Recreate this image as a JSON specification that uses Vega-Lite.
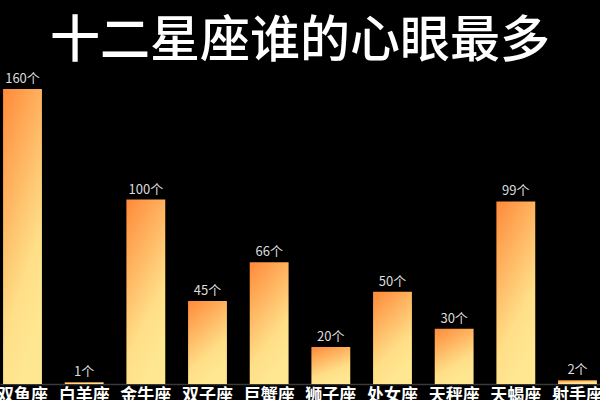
{
  "$schema": "https://vega.github.io/schema/vega-lite/v6.json",
  "background": "black",
  "autosize": {"type": "none"},
  "padding": {"top": 70, "left": 0, "right": 0, "bottom": 16},
  "width": 600,
  "height": 314,
  "title": {
    "text": "十二星座谁的心眼最多",
    "font": "Noto Sans CJK SC",
    "fontSize": 50,
    "fontWeight": 500,
    "color": "white",
    "anchor": "middle",
    "offset": 3
  },
  "data": {
    "values": [
      {"sign": "双鱼座", "value": 160, "label": "160个"},
      {"sign": "白羊座", "value": 1, "label": "1个"},
      {"sign": "金牛座", "value": 100, "label": "100个"},
      {"sign": "双子座", "value": 45, "label": "45个"},
      {"sign": "巨蟹座", "value": 66, "label": "66个"},
      {"sign": "狮子座", "value": 20, "label": "20个"},
      {"sign": "处女座", "value": 50, "label": "50个"},
      {"sign": "天秤座", "value": 30, "label": "30个"},
      {"sign": "天蝎座", "value": 99, "label": "99个"},
      {"sign": "射手座", "value": 2, "label": "2个"}
    ]
  },
  "encoding": {
    "x": {
      "field": "sign",
      "type": "nominal",
      "sort": null,
      "scale": {"paddingInner": 0.37, "paddingOuter": 0.05},
      "axis": {
        "title": null,
        "labelAngle": 0,
        "labelColor": "white",
        "labelFont": "Noto Sans CJK SC",
        "labelFontSize": 17,
        "labelFontWeight": "bold",
        "labelPadding": 3,
        "ticks": false,
        "domainColor": "#3a3a3a",
        "domainWidth": 1.5
      }
    },
    "y": {
      "field": "value",
      "type": "quantitative",
      "scale": {"domain": [0, 170.3], "nice": false},
      "axis": null
    }
  },
  "layer": [
    {
      "mark": {
        "type": "bar",
        "color": {
          "gradient": "linear",
          "x1": 0, "y1": 0, "x2": 0.4, "y2": 1,
          "stops": [
            {"offset": 0, "color": "#ff8a3a"},
            {"offset": 0.75, "color": "#ffdf88"},
            {"offset": 1, "color": "#ffe690"}
          ]
        }
      }
    },
    {
      "mark": {
        "type": "text",
        "baseline": "bottom",
        "dy": -3,
        "font": "Noto Sans CJK SC",
        "fontSize": 13,
        "color": "#dddddd"
      },
      "encoding": {"text": {"field": "label"}}
    }
  ],
  "config": {"view": {"stroke": null}}
}
